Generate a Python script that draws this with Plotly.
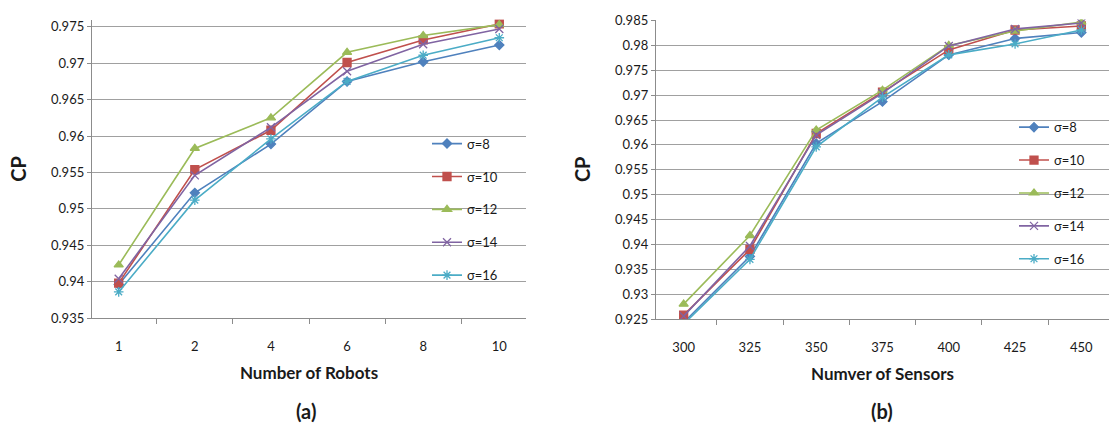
import plotly.graph_objects as go

# ---- data ----
robots = ["1", "2", "4", "6", "8", "10"]
sensors = ["300", "325", "350", "375", "400", "425", "450"]
sigma_labels = ["σ=8", "σ=10", "σ=12", "σ=14", "σ=16"]

cp_robots_s8 = [0.9396, 0.9522, 0.9589, 0.9675, 0.9702, 0.9725]
cp_robots_s10 = [0.9398, 0.9554, 0.9608, 0.9701, 0.9732, 0.9754]
cp_robots_s12 = [0.9423, 0.9583, 0.9625, 0.9715, 0.9738, 0.9753]
cp_robots_s14 = [0.9404, 0.9546, 0.9612, 0.9689, 0.9726, 0.9747]
cp_robots_s16 = [0.9386, 0.9512, 0.9596, 0.9675, 0.9711, 0.9735]

cp_sensors_s8 = [0.9243, 0.9376, 0.9603, 0.9687, 0.9781, 0.9814, 0.9826]
cp_sensors_s10 = [0.9258, 0.9390, 0.9623, 0.9706, 0.9791, 0.9831, 0.9839]
cp_sensors_s12 = [0.9280, 0.9418, 0.9630, 0.9710, 0.9800, 0.9829, 0.9847]
cp_sensors_s14 = [0.9256, 0.9397, 0.9620, 0.9704, 0.9799, 0.9833, 0.9845]
cp_sensors_s16 = [0.9240, 0.9370, 0.9596, 0.9696, 0.9781, 0.9803, 0.9831]

robots_series = [cp_robots_s8, cp_robots_s10, cp_robots_s12, cp_robots_s14, cp_robots_s16]
sensors_series = [cp_sensors_s8, cp_sensors_s10, cp_sensors_s12, cp_sensors_s14, cp_sensors_s16]

colors = ["#4F81BD", "#C0504D", "#9BBB59", "#8064A2", "#4BACC6"]
symbols = ["diamond", "square", "triangle-up", "x-thin-open", "asterisk-open"]
sizes = [7, 8, 8, 8, 8]

W, H = 1115, 432
FONT = "Lato"

fig = go.Figure()

for i, (lab, vals) in enumerate(zip(sigma_labels, robots_series)):
    fig.add_trace(go.Scatter(
        x=robots, y=vals, name=lab, mode="lines+markers",
        xaxis="x", yaxis="y", legend="legend", legendgroup=f"a{i}",
        line=dict(color=colors[i], width=1.6),
        marker=dict(symbol=symbols[i], size=sizes[i], color=colors[i],
                    line=dict(color=colors[i], width=1.3)),
    ))

for i, (lab, vals) in enumerate(zip(sigma_labels, sensors_series)):
    fig.add_trace(go.Scatter(
        x=sensors, y=vals, name=lab, mode="lines+markers",
        xaxis="x2", yaxis="y2", legend="legend2", legendgroup=f"b{i}",
        line=dict(color=colors[i], width=1.6),
        marker=dict(symbol=symbols[i], size=sizes[i], color=colors[i],
                    line=dict(color=colors[i], width=1.3)),
    ))

def px_x(p):
    return p / W

def px_y(p):
    return 1 - p / H

axis_col = "#8c8c8c"
grid_col = "#a0a0a0"
tickfont = dict(family=FONT, size=13, color="#1a1a1a")

common_x = dict(
    type="category", showgrid=False, showline=True, linecolor=axis_col, linewidth=1.3,
    ticks="outside", tickson="boundaries", ticklen=5, tickcolor=axis_col, tickwidth=1,
    tickfont=tickfont, zeroline=False, fixedrange=True, ticklabelstandoff=16,
)
common_y = dict(
    showgrid=True, gridcolor=grid_col, gridwidth=1, showline=True, linecolor=axis_col,
    linewidth=1.3, ticks="outside", ticklen=4, tickcolor=axis_col, tickformat="",
    tickfont=tickfont, zeroline=False, dtick=0.005, fixedrange=True,
)

legend_common = dict(xanchor="left", yanchor="top", bgcolor="rgba(0,0,0,0)",
                     font=dict(family=FONT, size=13, color="#1a1a1a"),
                     tracegroupgap=13, traceorder="grouped", itemwidth=30)

fig.update_layout(
    width=W, height=H,
    margin=dict(l=0, r=0, t=0, b=0),
    paper_bgcolor="white", plot_bgcolor="white",
    font=dict(family=FONT, color="#1a1a1a"),
    xaxis=dict(common_x, domain=[px_x(92), px_x(526)], anchor="y",
               title=dict(text="<b>Number of Robots</b>", font=dict(family=FONT, size=17), standoff=14)),
    yaxis=dict(common_y, domain=[px_y(322.3), px_y(13)], anchor="x",
               range=[0.935, 0.976], tick0=0.935,
               title=dict(text="<b>CP</b>", font=dict(family=FONT, size=20), standoff=19)),
    xaxis2=dict(common_x, domain=[px_x(656), px_x(1109)], anchor="y2",
                title=dict(text="<b>Numver of Sensors</b>", font=dict(family=FONT, size=17), standoff=14)),
    yaxis2=dict(common_y, domain=[px_y(323.3), px_y(13)], anchor="x2",
                range=[0.925, 0.9852], tick0=0.925,
                title=dict(text="<b>CP</b>", font=dict(family=FONT, size=20), standoff=19)),
    legend=dict(legend_common, x=px_x(427), y=px_y(126)),
    legend2=dict(legend_common, x=px_x(1014), y=px_y(109)),
    showlegend=True,
    annotations=[
        dict(text="<b>(a)</b>", x=px_x(306), y=px_y(419), xref="paper", yref="paper",
             xanchor="center", yanchor="middle",
             showarrow=False, font=dict(family=FONT, size=20, color="#1a1a1a")),
        dict(text="<b>(b)</b>", x=px_x(882), y=px_y(419), xref="paper", yref="paper",
             xanchor="center", yanchor="middle",
             showarrow=False, font=dict(family=FONT, size=20, color="#1a1a1a")),
    ],
)

fig.write_html("out.html")
